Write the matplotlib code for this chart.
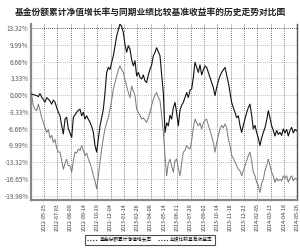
import numpy as np
import matplotlib
matplotlib.use("Agg")
import matplotlib.pyplot as plt

plt.rcParams['font.family'] = ['Noto Sans CJK SC', 'DejaVu Sans']

title = "基金份额累计净值增长率与同期业绩比较基准收益率的历史走势对比图"
series_names = ["基金份额累计净值增长率", "业绩比较基准收益率"]

# sample days (every ~3 trading days)
sample_day = np.arange(160) * 3.125 + 1.875

fund = [0.2, 0.1, 0.0, -0.1, -0.3, 0.3, -0.4, -0.9, -1.4, -0.5,
        -0.8, -1.2, -1.8, -1.0, -1.4, -2.5, -3.4, -4.1, -6.1, -7.7,
        -4.75, -4.4, -6.7, -7.5, -8.4, -4.4, -3.9, -3.4, -3.0, -2.8,
        -4.1, -3.4, -4.75, -4.1, -4.8, -5.4, -6.2, -7.4, -10.0, -11.3,
        -8.7, -6.1, -4.5, -2.8, 0.5, 4.5, 5.5, 5.1, 6.5, 7.8,
        9.8, 11.7, 13.0, 14.1, 13.6, 12.4, 10.0, 8.5, 9.8, 9.1,
        7.0, 5.8, 6.8, 3.8, 4.5, 3.5, 3.2, 4.0, 2.8, 2.5,
        4.0, 5.1, 6.0, 7.8, 8.5, 9.4, 8.6, 7.8, 4.0, 0.5,
        -7.4, -5.5, -6.1, -4.0, -4.75, -2.5, -1.45, -3.5, -6.1, -3.0,
        -2.0, -1.45, -0.5, 0.5, -0.5, 1.0, 1.2, 3.5, 6.5, 5.5,
        4.5, 6.0, 4.0, 5.0, 5.8, 5.5, 4.5, 3.5, 2.5, 1.5,
        -0.1, 1.5, 2.8, 3.8, 4.5, 5.0, 5.5, 4.0, 2.5, 0.5,
        -1.45, -2.5, -3.4, -4.5, -4.1, -6.0, -7.4, -6.0, -4.75, -3.5,
        -2.5, -1.8, -4.0, -6.7, -6.0, -7.4, -8.5, -10.0, -8.5, -7.4,
        -6.5, -5.0, -3.1, -4.5, -6.1, -7.0, -8.1, -7.0, -7.8, -7.4,
        -8.0, -6.7, -7.5, -6.8, -8.1, -7.0, -6.4, -7.5, -6.8, -7.1]

bench = [-0.1, -2.1, -2.8, -3.1, -1.8, -3.0, -4.5, -5.4, -6.5, -7.4,
         -6.8, -8.5, -8.0, -9.4, -8.8, -10.5, -11.3, -11.3, -13.0, -14.7,
         -13.5, -12.7, -14.0, -14.0, -15.3, -13.0, -11.3, -11.5, -10.7, -11.0,
         -10.0, -11.0, -12.0, -11.5, -12.7, -13.5, -14.5, -16.0, -17.0, -18.6,
         -16.0, -13.3, -10.7, -8.5, -6.7, -5.5, -4.5, -2.8, -1.0, 1.2,
         2.5, 3.8, 5.0, 5.8, 5.0, 4.5, 3.0, 1.8, 0.5, -0.5,
         1.8, 0.8, -0.1, -2.8, -3.5, -4.0, -4.75, -4.5, -5.0, -5.4,
         -4.5, -3.4, -2.0, -0.8, 0.0, 0.5, -0.5, -1.1, -4.0, -7.4,
         -12.0, -16.0, -13.5, -12.7, -14.0, -15.3, -13.0, -12.7, -14.5, -16.0,
         -13.5, -11.3, -11.0, -10.0, -10.5, -10.7, -9.0, -6.5, -4.75, -5.5,
         -6.1, -5.5, -6.7, -5.5, -5.0, -4.75, -6.0, -7.0, -8.1, -9.5,
         -11.3, -9.5, -8.0, -6.7, -6.0, -6.5, -5.7, -6.5, -8.7, -10.0,
         -12.0, -12.5, -13.3, -14.0, -14.7, -15.0, -16.0, -15.0, -14.0, -13.0,
         -12.0, -11.3, -13.0, -15.3, -16.0, -17.3, -18.0, -19.3, -17.5, -16.7,
         -15.0, -14.0, -12.7, -14.0, -15.3, -16.0, -17.3, -16.5, -17.0, -16.7,
         -17.0, -16.0, -16.5, -16.0, -17.3, -16.5, -16.0, -17.0, -16.5, -16.7]

tick_days = [25, 50, 75, 100, 125, 150, 175, 200, 225, 250,
             275, 300, 325, 350, 375, 400, 425, 450, 475, 500]
tick_labels = ['2012-05-25', '2012-07-03', '2012-08-09', '2012-09-14', '2012-10-29',
               '2012-12-04', '2013-01-14', '2013-02-26', '2013-04-08', '2013-05-14',
               '2013-06-21', '2013-07-29', '2013-09-02', '2013-10-14', '2013-11-18',
               '2013-12-23', '2014-02-05', '2014-03-13', '2014-04-18', '2014-05-26']
y_ticks = [-19.98, -16.65, -13.32, -9.99, -6.66, -3.33, 0.00, 3.33, 6.66, 9.99, 13.32]

fig = plt.figure(figsize=(3.0, 2.49), dpi=100)
ax = fig.add_axes([0.1023, 0.1968, 0.8887, 0.7068])

ax.plot(sample_day, bench, color='#777777', lw=0.7, zorder=3)
ax.plot(sample_day, fund, color='#111111', lw=0.8, zorder=4)

ax.set_xlim(0, 500)
ax.set_ylim(-20.8, 14.1)

ax.set_yticks(y_ticks)
ax.set_yticklabels(['%.2f%%' % v for v in y_ticks])
ax.set_xticks(tick_days)
ax.set_xticklabels(tick_labels, rotation=90)
ax.tick_params(axis='y', length=0, pad=1.5, labelsize=4.6, labelcolor='#555555')
ax.tick_params(axis='x', length=0, pad=2.5, labelsize=3.9, labelcolor='#333333')

for d in tick_days:
    ax.axvline(d, color='#555555', lw=0.6, ls=(0, (1, 1.5)), zorder=1)
for v in y_ticks:
    c = '#222222' if v == 13.32 else '#aaaaaa'
    ax.axhline(v, color=c, lw=0.6, ls=(0, (1, 1.5)), zorder=1)

ax.spines['top'].set_visible(False)
ax.spines['left'].set_color('#888888')
ax.spines['left'].set_linewidth(1.6)
ax.spines['bottom'].set_color('#888888')
ax.spines['bottom'].set_linewidth(1.6)
ax.spines['right'].set_color('#555555')
ax.spines['right'].set_linewidth(1.0)

fig.text(0.5, 0.952, title, ha='center', va='center', fontsize=6.3, color='#222222',
         fontweight='bold')

leg = fig.legend(ax.get_lines()[::-1], series_names, loc='center',
                 bbox_to_anchor=(0.5, 0.036), ncol=2, fontsize=3.4,
                 frameon=True, fancybox=False, handlelength=2.2, handletextpad=0.4,
                 columnspacing=1.2, borderpad=0.5)
leg.get_frame().set_edgecolor('#222222')
leg.get_frame().set_linewidth(0.8)
for h in leg.get_lines():
    h.set_color('#222222')
    h.set_linewidth(0.8)

fig.savefig('out.png', dpi=100)
